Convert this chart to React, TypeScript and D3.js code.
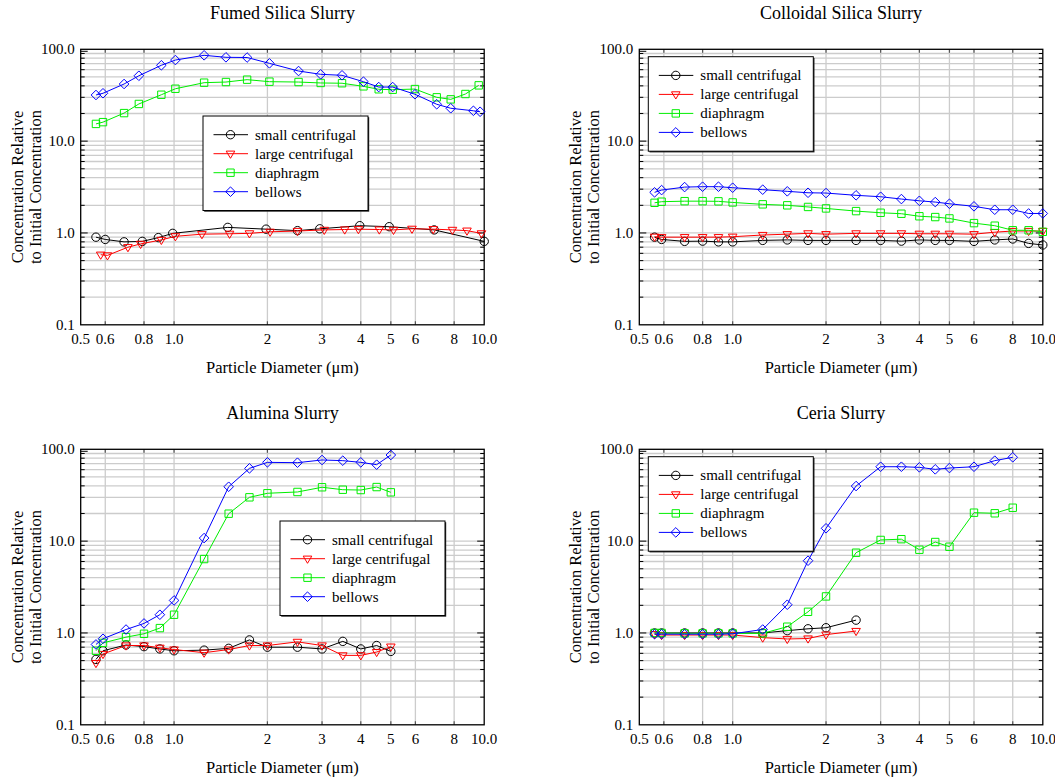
import React from "react";
import * as d3 from "d3";

// ---------- shared axis data ----------
const sizeStd = [0.56, 0.59, 0.7, 0.8, 0.9, 1.0, 1.25, 1.5, 1.75, 2, 2.5, 3, 3.5, 4, 4.5, 5, 6, 7, 8, 9, 10];
const xTicks = [0.5, 0.6, 0.8, 1, 2, 3, 4, 5, 6, 8, 10];
const xTickLabels = ["0.5", "0.6", "0.8", "1.0", "2", "3", "4", "5", "6", "8", "10.0"];
const xGrid = [0.6, 0.8, 1, 2, 3, 4, 5, 6, 8];
const yTicks = [0.1, 1, 10, 100];
const yTickLabels = ["0.1", "1.0", "10.0", "100.0"];
const seriesNames = ["small centrifugal", "large centrifugal", "diaphragm", "bellows"];
const seriesColors = ["#000000", "#ff0000", "#00ee00", "#0000ff"];
const panelTitles = ["Fumed Silica Slurry", "Colloidal Silica Slurry", "Alumina Slurry", "Ceria Slurry"];

// ---------- Fumed silica ----------
const fumedSmallX = [0.56, 0.6, 0.69, 0.79, 0.89, 0.99, 1.49, 1.98, 2.5, 2.95, 3.97, 4.94, 6.9, 10];
const fumedSmallY = [0.9, 0.85, 0.8, 0.81, 0.89, 0.99, 1.15, 1.1, 1.06, 1.11, 1.2, 1.17, 1.08, 0.81];
const fumedLargeX = [0.58, 0.61, 0.71, 0.78, 0.91, 1.01, 1.23, 1.51, 1.75, 2.04, 2.5, 3.05, 3.55, 3.93, 4.59, 5.1, 5.85, 6.85, 7.9, 8.8, 9.8];
const fumedLargeY = [0.58, 0.57, 0.7, 0.76, 0.84, 0.92, 0.97, 0.98, 0.99, 1.03, 1.05, 1.08, 1.09, 1.1, 1.09, 1.08, 1.11, 1.1, 1.08, 1.06, 0.99];
const fumedDiaX = [0.56, 0.59, 0.69, 0.77, 0.91, 1.01, 1.25, 1.47, 1.72, 2.03, 2.52, 2.97, 3.48, 4.08, 4.57, 5.07, 5.98, 7.03, 7.8, 8.7, 9.6];
const fumedDiaY = [15.4, 16.1, 20.2, 25.4, 32, 37.2, 43.3, 44, 46.7, 44.4, 44, 43, 42.7, 39.5, 36.7, 36.3, 36.9, 30, 28.5, 32.6, 40.5];
const fumedBelX = [0.56, 0.59, 0.69, 0.77, 0.91, 1.01, 1.25, 1.47, 1.72, 2.03, 2.52, 2.97, 3.48, 4.08, 4.57, 5.07, 5.98, 7.03, 7.8, 9.23, 9.7];
const fumedBelY = [31.8, 33.2, 41.9, 51.5, 67, 76.4, 86, 81.8, 81.4, 70.3, 58, 53.4, 52.1, 44.4, 38.8, 38.8, 32.4, 25.2, 22.8, 21.4, 20.9];

// ---------- Colloidal silica ----------
const collSmallY = [0.9, 0.85, 0.81, 0.815, 0.8, 0.8, 0.83, 0.84, 0.83, 0.83, 0.83, 0.83, 0.815, 0.84, 0.83, 0.83, 0.81, 0.84, 0.86, 0.77, 0.74];
const collLargeY = [0.91, 0.9, 0.9, 0.9, 0.9, 0.91, 0.95, 0.97, 0.99, 0.97, 0.99, 0.99, 0.99, 0.98, 0.98, 0.98, 0.97, 1.02, 1.05, 1.05, 1.05];
const collDiaY = [2.13, 2.19, 2.22, 2.22, 2.21, 2.15, 2.05, 2.0, 1.92, 1.85, 1.73, 1.66, 1.62, 1.52, 1.49, 1.44, 1.28, 1.2, 1.07, 1.07, 1.03];
const collBelY = [2.77, 2.93, 3.16, 3.19, 3.19, 3.11, 2.96, 2.84, 2.74, 2.72, 2.57, 2.48, 2.34, 2.24, 2.17, 2.08, 1.95, 1.79, 1.79, 1.63, 1.63];

// ---------- Alumina ----------
const aluSmallY = [0.515, 0.64, 0.74, 0.71, 0.67, 0.64, 0.65, 0.68, 0.84, 0.7, 0.7, 0.67, 0.81, 0.67, 0.73, 0.63];
const aluLargeY = [0.47, 0.59, 0.73, 0.73, 0.69, 0.66, 0.61, 0.66, 0.73, 0.73, 0.8, 0.73, 0.57, 0.57, 0.62, 0.71];
const aluDiaY = [0.64, 0.78, 0.9, 0.98, 1.13, 1.58, 6.38, 19.9, 30, 33.2, 34.3, 38.6, 36.3, 36, 38.8, 34];
const aluBelY = [0.75, 0.865, 1.09, 1.27, 1.58, 2.26, 10.8, 39.1, 62, 72.1, 71.5, 76.5, 75.2, 72.1, 68, 86.7];

// ---------- Ceria ----------
const ceriaSmallY = [1.0, 1.0, 1.0, 1.0, 1.0, 1.0, 1.0, 1.06, 1.11, 1.14, 1.38];
const ceriaLargeY = [0.97, 0.95, 0.95, 0.95, 0.95, 0.95, 0.89, 0.86, 0.87, 0.96, 1.05];
const ceriaDiaY = [1.0, 1.0, 0.99, 0.99, 0.99, 0.99, 0.99, 1.17, 1.7, 2.5, 7.48, 10.3, 10.5, 8.06, 9.78, 8.69, 20.4, 20.1, 23.1];
const ceriaBelY = [0.97, 0.97, 0.97, 0.97, 0.97, 0.98, 1.09, 2.03, 6.12, 13.8, 39.8, 64.6, 64.6, 63.6, 60.5, 62.5, 64.6, 75.2, 81.8];

type Series = { xs: number[]; ys: number[] };
type Panel = { title: string; left: number; top: number; legend: [number, number]; series: Series[] };

const std = (ys: number[]): Series => ({ xs: sizeStd.slice(0, ys.length), ys });

const PW = 403.5;
const PH = 275.5;

const panels: Panel[] = [
  {
    title: panelTitles[0], left: 80.7, top: 49.3, legend: [122.3, 66.7],
    series: [
      { xs: fumedSmallX, ys: fumedSmallY },
      { xs: fumedLargeX, ys: fumedLargeY },
      { xs: fumedDiaX, ys: fumedDiaY },
      { xs: fumedBelX, ys: fumedBelY },
    ],
  },
  {
    title: panelTitles[1], left: 639.3, top: 49.3, legend: [9, 7.4],
    series: [std(collSmallY), std(collLargeY), std(collDiaY), std(collBelY)],
  },
  {
    title: panelTitles[2], left: 80.7, top: 449.3, legend: [199.3, 71.7],
    series: [std(aluSmallY), std(aluLargeY), std(aluDiaY), std(aluBelY)],
  },
  {
    title: panelTitles[3], left: 639.3, top: 449.3, legend: [9, 7.4],
    series: [std(ceriaSmallY), std(ceriaLargeY), std(ceriaDiaY), std(ceriaBelY)],
  },
];

const FONT = "'Liberation Serif', 'Times New Roman', serif";

function markerPath(i: number): string {
  switch (i) {
    case 0: {
      const r = 4.2;
      return `M${-r},0A${r},${r} 0 1,0 ${r},0A${r},${r} 0 1,0 ${-r},0Z`;
    }
    case 1:
      return "M-4.3,-2.6L4.3,-2.6L0,4.6Z";
    case 2:
      return "M-3.7,-3.7L3.7,-3.7L3.7,3.7L-3.7,3.7Z";
    default:
      return "M0,-4.8L4.8,0L0,4.8L-4.8,0Z";
  }
}

function ChartPanel({ p }: { p: Panel }) {
  const x = d3.scaleLog().domain([0.5, 10]).range([0, PW]);
  const y = d3.scaleLog().domain([0.1, 100]).range([PH, 0]);
  const minors: number[] = [];
  for (const dec of [0.1, 1, 10]) {
    for (let k = 1; k <= 9; k++) {
      if (k === 1 && dec === 0.1) continue;
      minors.push(dec * k);
    }
  }
  const line = d3
    .line<[number, number]>()
    .x((d) => x(d[0]))
    .y((d) => y(d[1]));
  const [lx, ly] = p.legend;
  return (
    <g transform={`translate(${p.left},${p.top})`}>
      <text x={PW / 2} y={-30} textAnchor="middle" fontSize={18} fontFamily={FONT} fill="#000">
        {p.title}
      </text>
      {/* grid */}
      {minors.map((v, i) => (
        <line key={"hg" + i} x1={0} x2={PW} y1={y(v)} y2={y(v)} stroke="#cccccc" strokeWidth={1.3} />
      ))}
      {xGrid.map((v, i) => (
        <line key={"vg" + i} x1={x(v)} x2={x(v)} y1={0} y2={PH} stroke="#cccccc" strokeWidth={1.3} />
      ))}
      {/* minor ticks left/right */}
      {minors.map((v, i) => {
        const major = [1, 10].includes(Math.round(v * 1000) / 1000);
        const len = major ? 7 : 4;
        return (
          <g key={"mt" + i}>
            <line x1={0} x2={len} y1={y(v)} y2={y(v)} stroke="#000" strokeWidth={1} />
            <line x1={PW - len} x2={PW} y1={y(v)} y2={y(v)} stroke="#000" strokeWidth={1} />
          </g>
        );
      })}
      <line x1={0} x2={7} y1={2} y2={2} stroke="#000" />
      {/* x ticks top/bottom */}
      {xGrid.map((v, i) => (
        <g key={"xt" + i}>
          <line x1={x(v)} x2={x(v)} y1={PH} y2={PH - 3.5} stroke="#555" strokeWidth={1.2} />
          <line x1={x(v)} x2={x(v)} y1={0} y2={3.5} stroke="#555" strokeWidth={1.2} />
        </g>
      ))}
      {/* frame */}
      <rect x={0} y={0} width={PW} height={PH} fill="none" stroke="#000" strokeWidth={1.3} />
      {/* tick labels */}
      {xTicks.map((v, i) => (
        <text key={"xl" + i} x={x(v)} y={PH + 19.5} textAnchor="middle" fontSize={15} fontFamily={FONT} fill="#000">
          {xTickLabels[i]}
        </text>
      ))}
      {yTicks.map((v, i) => (
        <text key={"yl" + i} x={-6} y={y(v) + 5} textAnchor="end" fontSize={15} fontFamily={FONT} fill="#000">
          {yTickLabels[i]}
        </text>
      ))}
      <text x={PW / 2} y={PH + 48.5} textAnchor="middle" fontSize={16.5} fontFamily={FONT} fill="#000">
        Particle Diameter (μm)
      </text>
      <g transform={`translate(${-63},${PH / 2}) rotate(-90)`}>
        <text x={0} y={5} textAnchor="middle" fontSize={16.5} fontFamily={FONT} fill="#000">
          Concentration Relative
        </text>
        <text x={0} y={23} textAnchor="middle" fontSize={16.5} fontFamily={FONT} fill="#000">
          to Initial Concentration
        </text>
      </g>
      {/* series */}
      {p.series.map((s, si) => {
        const pts: [number, number][] = s.xs.map((xv, k) => [xv, s.ys[k]]);
        return (
          <g key={"s" + si}>
            <path d={line(pts) || ""} fill="none" stroke={seriesColors[si]} strokeWidth={1} />
            {pts.map((d, k) => (
              <path
                key={k}
                d={markerPath(si)}
                transform={`translate(${x(d[0])},${y(d[1])})`}
                fill="none"
                stroke={seriesColors[si]}
                strokeWidth={1}
              />
            ))}
          </g>
        );
      })}
      {/* legend */}
      <g transform={`translate(${lx},${ly})`}>
        <rect x={1.2} y={1.2} width={165} height={94.5} fill="#222" />
        <rect x={0} y={0} width={165} height={94.5} fill="#fff" stroke="#000" strokeWidth={1} />
        {seriesNames.map((n, i) => (
          <g key={"lg" + i} transform={`translate(0,${18.7 + i * 19})`}>
            <line x1={10.5} x2={45} y1={0} y2={0} stroke={seriesColors[i]} strokeWidth={1} />
            <path d={markerPath(i)} transform="translate(27.5,0)" fill="none" stroke={seriesColors[i]} strokeWidth={1} />
            <text x={52} y={5} fontSize={15} fontFamily={FONT} fill="#000">
              {n}
            </text>
          </g>
        ))}
      </g>
    </g>
  );
}

export default function App() {
  return (
    <svg
      width={1055}
      height={782}
      style={{ position: "absolute", left: 0, top: 0, background: "#fff" }}
      xmlns="http://www.w3.org/2000/svg"
    >
      <rect x={0} y={0} width={1055} height={782} fill="#fff" />
      {panels.map((p, i) => (
        <ChartPanel key={i} p={p} />
      ))}
    </svg>
  );
}
